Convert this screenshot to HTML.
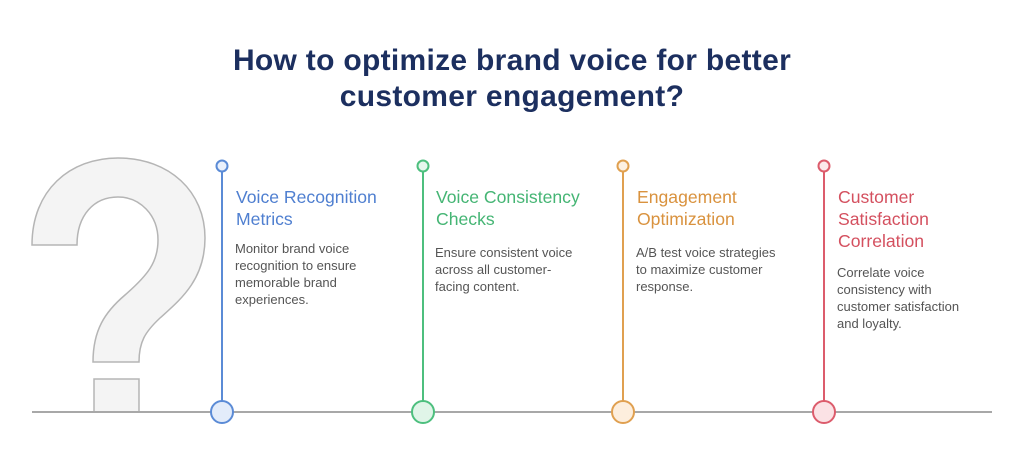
<!DOCTYPE html>
<html><head><meta charset="utf-8"><style>
body{margin:0;width:1024px;height:472px;background:#fff;position:relative;overflow:hidden;font-family:"Liberation Sans",sans-serif}
.t{position:absolute;left:0;width:1024px;text-align:center;top:43px;font-size:30px;line-height:36px;color:#1c2f5f;font-weight:bold;letter-spacing:0.3px}
.h{position:absolute;font-size:17.6px;line-height:22px}
.b{position:absolute;font-size:13px;line-height:17px;color:#555}
</style></head><body>
<svg width="1024" height="472" style="position:absolute;left:0;top:0">
<path d="M32,245 C32,190 70,158 118,158 C170,158 205,192 205,238 C205,280 180,300 160,318 C145,332 139,342 139,362 L93,362 C93,330 105,312 125,295 C148,275 158,262 158,240 C158,215 140,197 118,197 C94,197 77,215 77,245 Z" fill="#f4f4f4" stroke="#b5b5b5" stroke-width="1.5"/>
<rect x="94" y="379" width="45" height="33" fill="#f4f4f4" stroke="#b5b5b5" stroke-width="1.5"/>
<line x1="32" y1="412" x2="992" y2="412" stroke="#a8a8a8" stroke-width="2"/>
<g stroke-width="2">
<line x1="222" y1="172" x2="222" y2="401" stroke="#5b8bd6"/><circle cx="222" cy="166" r="5.5" fill="#eaf1fc" stroke="#5b8bd6"/><circle cx="222" cy="412" r="11" fill="#e3ecfa" stroke="#5b8bd6"/>
<line x1="423" y1="172" x2="423" y2="401" stroke="#4dbf7e"/><circle cx="423" cy="166" r="5.5" fill="#e6f7ed" stroke="#4dbf7e"/><circle cx="423" cy="412" r="11" fill="#e0f5e8" stroke="#4dbf7e"/>
<line x1="623" y1="172" x2="623" y2="401" stroke="#e0a050"/><circle cx="623" cy="166" r="5.5" fill="#fdf1e3" stroke="#e0a050"/><circle cx="623" cy="412" r="11" fill="#fdeedd" stroke="#e0a050"/>
<line x1="824" y1="172" x2="824" y2="401" stroke="#dc5c6c"/><circle cx="824" cy="166" r="5.5" fill="#fce8ea" stroke="#dc5c6c"/><circle cx="824" cy="412" r="11" fill="#fbe2e5" stroke="#dc5c6c"/>
</g></svg>
<div class="t">How to optimize brand voice for better<br>customer engagement?</div>
<div class="h" style="left:236px;top:186px;color:#4f7fd0">Voice Recognition<br>Metrics</div>
<div class="b" style="left:235px;top:240px">Monitor brand voice<br>recognition to ensure<br>memorable brand<br>experiences.</div>
<div class="h" style="left:436px;top:186px;color:#45b574">Voice Consistency<br>Checks</div>
<div class="b" style="left:435px;top:244px">Ensure consistent voice<br>across all customer-<br>facing content.</div>
<div class="h" style="left:637px;top:186px;color:#d9923e">Engagement<br>Optimization</div>
<div class="b" style="left:636px;top:244px">A/B test voice strategies<br>to maximize customer<br>response.</div>
<div class="h" style="left:838px;top:186px;color:#d4505f">Customer<br>Satisfaction<br>Correlation</div>
<div class="b" style="left:837px;top:264px">Correlate voice<br>consistency with<br>customer satisfaction<br>and loyalty.</div>
</body></html>
